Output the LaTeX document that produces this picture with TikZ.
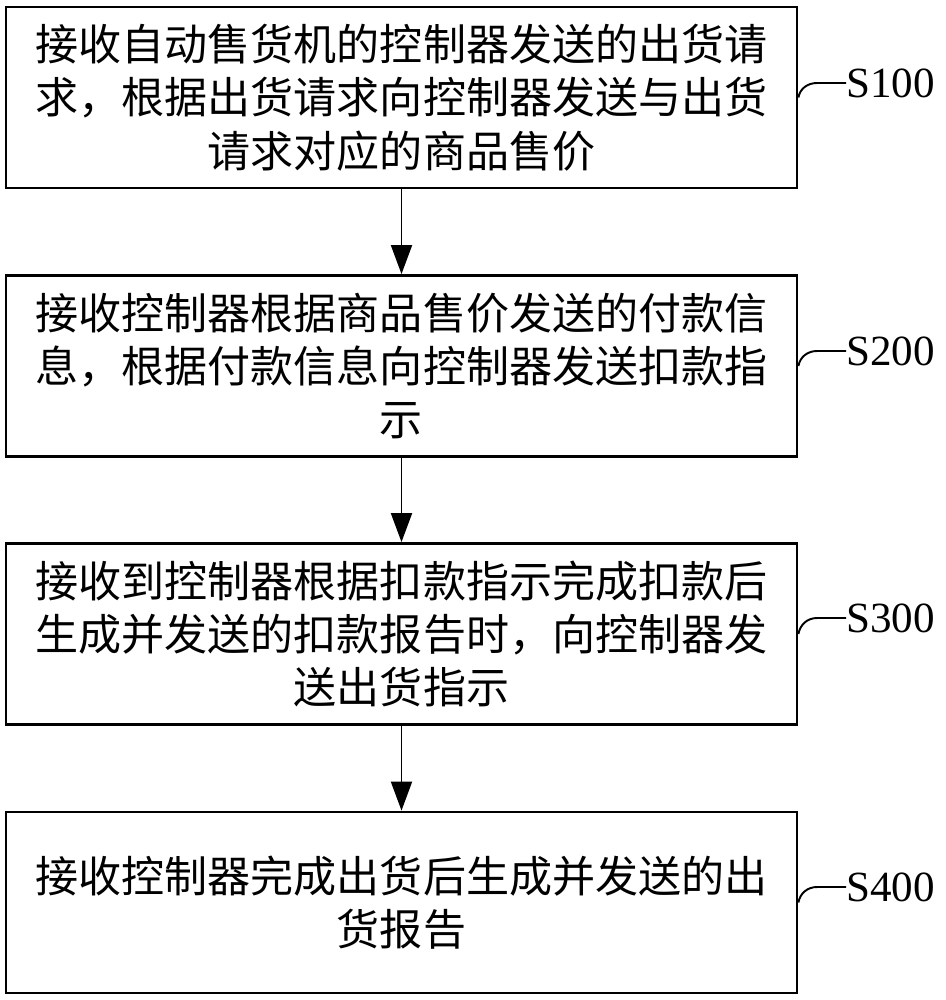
\documentclass[tikz,border=0pt]{standalone}
\usepackage{fontspec}
\setmainfont{Liberation Serif}
\newfontfamily\cjk{Noto Sans CJK SC}
\usetikzlibrary{arrows.meta}

\begin{document}
\begin{tikzpicture}[
  stepbox/.style={draw,line width=1.6pt,minimum width=15.82cm,minimum height=3.62cm,
    align=center,inner sep=0pt,font={\cjk\fontsize{24.5pt}{30.4pt}\selectfont}},
  lbl/.style={anchor=west,inner sep=0pt,font={\fontsize{24.5pt}{29pt}\selectfont}},
  arr/.style={line width=1.1pt,-{Triangle[width=0.42cm,length=0.58cm]}},
  tick/.style={line width=1.1pt}
]
  \useasboundingbox (0,0) rectangle (18.9,-20);

  \node[stepbox] (b1) at (8.03,-1.95)  {接收自动售货机的控制器发送的出货请\\求，根据出货请求向控制器发送与出货\\请求对应的商品售价};
  \node[stepbox] (b2) at (8.03,-7.32)  {接收控制器根据商品售价发送的付款信\\息，根据付款信息向控制器发送扣款指\\示};
  \node[stepbox] (b3) at (8.03,-12.68) {接收到控制器根据扣款指示完成扣款后\\生成并发送的扣款报告时，向控制器发\\送出货指示};
  \node[stepbox] (b4) at (8.03,-18.05) {接收控制器完成出货后生成并发送的出\\货报告};

  \node[lbl] (s1) at (16.92,-1.66)  {S100};
  \node[lbl] (s2) at (16.92,-7.02)  {S200};
  \node[lbl] (s3) at (16.92,-12.36) {S300};
  \node[lbl] (s4) at (16.92,-17.74) {S400};

  \draw[arr] (b1) -- (b2);
  \draw[arr] (b2) -- (b3);
  \draw[arr] (b3) -- (b4);

  \draw[tick] (s1.west) -- ++(-0.58,0) to[out=180,in=80] (b1.east);
  \draw[tick] (s2.west) -- ++(-0.58,0) to[out=180,in=80] (b2.east);
  \draw[tick] (s3.west) -- ++(-0.58,0) to[out=180,in=80] (b3.east);
  \draw[tick] (s4.west) -- ++(-0.58,0) to[out=180,in=80] (b4.east);
\end{tikzpicture}
\end{document}
